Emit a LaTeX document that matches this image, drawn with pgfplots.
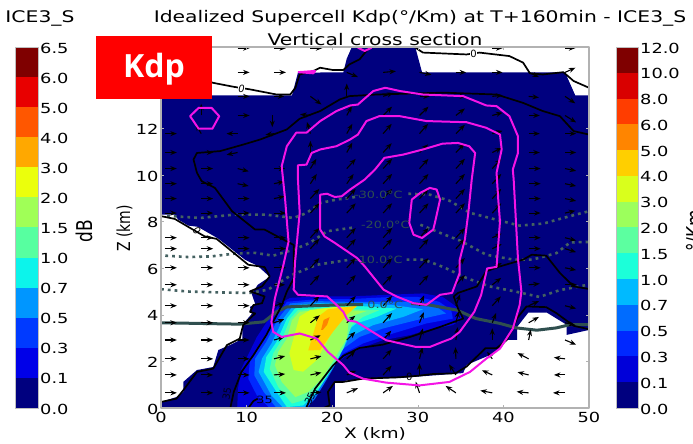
\documentclass[border=0pt]{standalone}
\usepackage{graphicx}
\usepackage{fontspec}
\setmainfont{DejaVu Sans}
\newfontfamily\kdpfont{Open Sans}
\usepackage{pgfplots}
\pgfplotsset{compat=1.18}
\usetikzlibrary{arrows.meta}
\newcommand\sx[1]{\scalebox{1.28}[1]{#1}}
\newcommand\tk[1]{{\fontsize{13.9}{14}\selectfont\sx{#1}}}
% colour levels of the two colour bars
\definecolor{L0}{HTML}{00007F}\definecolor{L1}{HTML}{0000E8}\definecolor{L2}{HTML}{003AFF}
\definecolor{L3}{HTML}{0096FF}\definecolor{L4}{HTML}{0CF4EB}\definecolor{L5}{HTML}{57FFA0}
\definecolor{L6}{HTML}{A0FF57}\definecolor{L7}{HTML}{EBFF0C}\definecolor{L8}{HTML}{FFA800}
\definecolor{L9}{HTML}{FF5700}\definecolor{L10}{HTML}{E80000}\definecolor{L11}{HTML}{7F0000}
\definecolor{R0}{HTML}{00007F}\definecolor{R1}{HTML}{0000D9}\definecolor{R2}{HTML}{0028FF}
\definecolor{R3}{HTML}{006CFF}\definecolor{R4}{HTML}{00BAFF}\definecolor{R5}{HTML}{1CFFD9}
\definecolor{R6}{HTML}{5CFFA0}\definecolor{R7}{HTML}{9CFF5C}\definecolor{R8}{HTML}{D9FF1C}
\definecolor{R9}{HTML}{FFCF00}\definecolor{R10}{HTML}{FF8500}\definecolor{R11}{HTML}{FF3D00}
\definecolor{R12}{HTML}{D90000}\definecolor{R13}{HTML}{7F0000}
\definecolor{iso}{HTML}{2F4F4F}
\definecolor{mag}{HTML}{F414E6}
\begin{document}
\begin{tikzpicture}[x=1pt,y=1pt]
\path[use as bounding box] (0,0) rectangle (693,444);
% left colour bar
\begin{axis}[at={(15pt,36pt)},anchor=south west,scale only axis,width=23pt,height=361pt,
 xmin=0,xmax=1,ymin=0,ymax=12,xtick=\empty,ytick={0,...,12},
 yticklabels={\tk{0.0},\tk{0.1},\tk{0.3},\tk{0.5},\tk{0.7},\tk{1.0},\tk{1.5},\tk{2.0},\tk{3.0},\tk{4.0},\tk{5.0},\tk{6.0},\tk{6.5}},
 yticklabel pos=right,major tick length=0pt,axis line style={draw=gray!50,line width=.5pt},
 yticklabel style={inner xsep=2pt,anchor=west,yshift=-1pt},axis on top]
\addplot[fill=L0,draw=none] coordinates {(0,0)(1,0)(1,1)(0,1)} -- cycle;
\addplot[fill=L1,draw=none] coordinates {(0,1)(1,1)(1,2)(0,2)} -- cycle;
\addplot[fill=L2,draw=none] coordinates {(0,2)(1,2)(1,3)(0,3)} -- cycle;
\addplot[fill=L3,draw=none] coordinates {(0,3)(1,3)(1,4)(0,4)} -- cycle;
\addplot[fill=L4,draw=none] coordinates {(0,4)(1,4)(1,5)(0,5)} -- cycle;
\addplot[fill=L5,draw=none] coordinates {(0,5)(1,5)(1,6)(0,6)} -- cycle;
\addplot[fill=L6,draw=none] coordinates {(0,6)(1,6)(1,7)(0,7)} -- cycle;
\addplot[fill=L7,draw=none] coordinates {(0,7)(1,7)(1,8)(0,8)} -- cycle;
\addplot[fill=L8,draw=none] coordinates {(0,8)(1,8)(1,9)(0,9)} -- cycle;
\addplot[fill=L9,draw=none] coordinates {(0,9)(1,9)(1,10)(0,10)} -- cycle;
\addplot[fill=L10,draw=none] coordinates {(0,10)(1,10)(1,11)(0,11)} -- cycle;
\addplot[fill=L11,draw=none] coordinates {(0,11)(1,11)(1,12)(0,12)} -- cycle;
\end{axis}
% right colour bar
\begin{axis}[at={(616pt,36pt)},anchor=south west,scale only axis,width=22pt,height=361pt,
 xmin=0,xmax=1,ymin=0,ymax=14,xtick=\empty,ytick={0,...,14},
 yticklabels={\tk{0.0},\tk{0.1},\tk{0.3},\tk{0.5},\tk{0.7},\tk{1.0},\tk{1.5},\tk{2.0},\tk{3.0},\tk{4.0},\tk{5.0},\tk{6.0},\tk{8.0},\tk{10.0},\tk{12.0}},
 yticklabel pos=right,major tick length=0pt,axis line style={draw=gray!50,line width=.5pt},
 yticklabel style={inner xsep=2pt,anchor=west,yshift=-1pt},axis on top]
\addplot[fill=R0,draw=none] coordinates {(0,0)(1,0)(1,1)(0,1)} -- cycle;
\addplot[fill=R1,draw=none] coordinates {(0,1)(1,1)(1,2)(0,2)} -- cycle;
\addplot[fill=R2,draw=none] coordinates {(0,2)(1,2)(1,3)(0,3)} -- cycle;
\addplot[fill=R3,draw=none] coordinates {(0,3)(1,3)(1,4)(0,4)} -- cycle;
\addplot[fill=R4,draw=none] coordinates {(0,4)(1,4)(1,5)(0,5)} -- cycle;
\addplot[fill=R5,draw=none] coordinates {(0,5)(1,5)(1,6)(0,6)} -- cycle;
\addplot[fill=R6,draw=none] coordinates {(0,6)(1,6)(1,7)(0,7)} -- cycle;
\addplot[fill=R7,draw=none] coordinates {(0,7)(1,7)(1,8)(0,8)} -- cycle;
\addplot[fill=R8,draw=none] coordinates {(0,8)(1,8)(1,9)(0,9)} -- cycle;
\addplot[fill=R9,draw=none] coordinates {(0,9)(1,9)(1,10)(0,10)} -- cycle;
\addplot[fill=R10,draw=none] coordinates {(0,10)(1,10)(1,11)(0,11)} -- cycle;
\addplot[fill=R11,draw=none] coordinates {(0,11)(1,11)(1,12)(0,12)} -- cycle;
\addplot[fill=R12,draw=none] coordinates {(0,12)(1,12)(1,13)(0,13)} -- cycle;
\addplot[fill=R13,draw=none] coordinates {(0,13)(1,13)(1,14)(0,14)} -- cycle;
\end{axis}
% main panel
\begin{axis}[at={(161pt,36pt)},anchor=south west,scale only axis,width=428pt,height=361pt,
 xmin=0,xmax=50,ymin=0,ymax=15.5,xtick={0,10,...,50},ytick={0,2,...,12},
 xticklabels={\tk{0},\tk{10},\tk{20},\tk{30},\tk{40},\tk{50}},
 yticklabels={\tk{0},\tk{2},\tk{4},\tk{6},\tk{8},\tk{10},\tk{12}},
 axis line style={draw=gray!60,line width=1.2pt},tick style={draw=gray!60,line width=.4pt},
 major tick length=3pt,tick align=inside,
 xticklabel style={yshift=-1pt},yticklabel style={xshift=1pt,yshift=-1pt},axis on top,line join=round]
% field: navy base
\addplot[fill=R0,draw=none] coordinates {(0,0)(0,.26)(1.8,.47)(2.6,.69)(2.6,1.12)(4.2,1.63)(6.1,1.76)(6.7,2.49)(8.1,2.71)(9.5,2.97)(9.5,3.57)(10.6,4.04)(10.4,4.34)(11,4.47)(10.6,4.9)(11.3,5.29)(12.7,5.63)(11.3,6.1)(9.8,6.37)(6.7,7.27)(4.3,7.78)(3.2,7.83)(2,8.09)(1.6,8.3)(0,8.3)(0,13.42)(15.3,13.42)(16,14.4)(21.3,14.41)(21.7,15)(22.3,15.5)(29.7,15.5)(30.5,14.41)(47.2,14.41)(48.4,13.42)(50,13.42)(50,3.35)(47.4,3.14)(47.4,3.57)(45.1,4.09)(42.9,4.09)(41.6,3.48)(41.6,2.92)(40.4,2.92)(39.8,2.62)(39,2.37)(37.9,2.19)(35.7,1.85)(35.3,1.5)(32.6,1.42)(27.9,1.29)(23.6,1.25)(20.3,1.12)(20.3,0)} -- cycle;
\addplot[fill=R1,draw=none] coordinates {(8.9,0)(9,.83)(9.4,1.69)(11.2,3.05)(12.9,3.99)(13.9,4.49)(15.1,4.73)(18.2,4.79)(22.1,4.79)(27.1,4.87)(30.6,4.92)(32.9,4.77)(34.7,4.3)(35.3,3.84)(34.1,3.56)(31,3.34)(29.1,3.13)(25.9,2.91)(23.2,2.55)(21.5,2.2)(19.7,1.7)(18.6,1.26)(17.8,.54)(17.2,0)} -- cycle;
\addplot[fill=R2,draw=none] coordinates {(12.7,0)(11.2,.54)(10.2,1.26)(10.4,2.12)(11.6,2.7)(13.3,3.84)(14.7,4.56)(18.2,4.67)(21.7,4.67)(27.1,4.77)(30,4.77)(32.5,4.56)(33.9,4.2)(34.1,3.84)(31,3.63)(27.1,3.2)(23.6,2.77)(21.3,2.34)(19.5,1.55)(18.2,.97)(17.4,.19)(16.9,0)} -- cycle;
\addplot[fill=R3,draw=none] coordinates {(13.5,0)(12,.69)(10.9,1.4)(11,2.12)(12.3,2.84)(13.7,3.84)(15.1,4.49)(18.2,4.59)(21.7,4.56)(25.2,4.56)(29.1,4.56)(32.2,4.34)(33.3,4.06)(29.8,3.77)(25.9,3.41)(23.2,3.05)(21.3,2.55)(20.1,1.69)(19.2,1.12)(18,.4)(17,0)} -- cycle;
\addplot[fill=R4,draw=none] coordinates {(14.3,0)(12.9,.54)(11.4,1.55)(11.8,2.12)(12.9,2.77)(14.3,3.84)(15.5,4.42)(18.2,4.5)(21.7,4.49)(23.6,4.49)(27.1,4.42)(30.6,4.24)(28.3,3.91)(24.8,3.56)(22,3.05)(20.5,1.98)(19.2,1.26)(18,.54)(16.8,.04)} -- cycle;
\addplot[fill=R5,draw=none] coordinates {(14.7,.04)(13.5,.69)(12,1.55)(12.3,2.19)(13.5,2.84)(14.7,3.84)(15.8,4.34)(18.2,4.42)(21.7,4.42)(24.8,4.34)(27.5,4.27)(25.2,3.91)(22.8,3.63)(21.6,3.27)(20.9,2.27)(19.5,1.4)(18.2,.69)(16.6,.11)} -- cycle;
\addplot[fill=R6,draw=none] coordinates {(15.3,.19)(13.7,.9)(12.7,1.69)(13.1,2.34)(14.1,2.91)(15.1,3.84)(16,4.2)(18.6,4.3)(21.7,4.3)(22.8,4.24)(25.5,4.2)(23.6,3.91)(22.3,3.56)(21.3,2.55)(19.7,1.62)(18.6,.97)(16.6,.33)} -- cycle;
\addplot[fill=R7,draw=none] coordinates {(15.7,.47)(14.1,1.12)(13.3,1.84)(13.7,2.41)(14.7,2.98)(15.3,3.77)(16.2,4.13)(19,4.24)(21.7,4.2)(24,4.16)(22,3.91)(21.7,2.98)(19.9,1.9)(18.8,1.26)(17.2,.69)} -- cycle;
\addplot[fill=R8,draw=none] coordinates {(15.5,1.63)(15,2.35)(15.7,3.28)(16.2,3.93)(17.4,4.2)(20.1,4.33)(22.9,4.36)(21.3,3.93)(19.7,3.07)(18.2,2.06)(16.6,1.56)} -- cycle;
\addplot[fill=R9,draw=none] coordinates {(17.2,2.47)(17.8,3.21)(18.4,3.93)(19.5,4.24)(22.9,4.39)(21.7,4)(20.1,3.28)(18.6,2.49)} -- cycle;
\addplot[fill=R10,draw=none] coordinates {(18.7,3.35)(19,3.78)(19.7,3.9)(19.4,3.57)(18.9,3.35)} -- cycle;
% isotherms
\addplot[iso!90,line width=2.6pt,dash pattern=on 2.8pt off 4pt] coordinates {(.7,8.25)(4.6,8.16)(8.5,8.3)(12.3,8.3)(15.5,8.16)(17,8.37)(18.6,8.8)(20.5,8.95)(22.1,9.02)(23.2,9.1)};
\addplot[iso!90,line width=2.6pt,dash pattern=on 2.8pt off 4pt] coordinates {(28.9,9.2)(31.4,9.16)(33.7,8.9)(36.1,8.38)(38.8,8.12)(41.9,7.83)(44.7,7.92)(47,8.16)(50,8.45)};
\addplot[iso!90,line width=2.6pt,dash pattern=on 2.8pt off 4pt] coordinates {(.5,6.54)(3.2,6.48)(5.9,6.51)(8.6,6.63)(11,6.66)(13.1,6.54)(15.5,6.8)(17.4,7.09)(19.4,7.59)(22.7,7.76)};
\addplot[iso!90,line width=2.6pt,dash pattern=on 2.8pt off 4pt] coordinates {(30.3,7.87)(32.6,7.52)(35.1,7.16)(38,6.58)(41.2,6.37)(43.4,6.37)(46.2,6.65)(47.8,7.11)(50,7.13)};
\addplot[iso!90,line width=2.6pt,dash pattern=on 2.8pt off 4pt] coordinates {(0,5.1)(3.2,5)(7.1,4.96)(10.4,4.94)(12.5,5.08)(15.2,5.7)(18.2,6.15)(22.1,6.37)};
\addplot[iso!90,line width=2.6pt,dash pattern=on 2.8pt off 4pt] coordinates {(28.7,6.37)(30.7,6.37)(33,6.05)(35.7,5.58)(38.4,5.22)(41.4,5)(44.2,4.77)(46.6,5.06)(50,5.3)};
\addplot[iso,line width=3pt] coordinates {(0,3.66)(9.2,3.6)(12,3.7)(13.5,4.13)(14.7,4.34)(17.8,4.39)(22.1,4.44)(23.6,4.44)};
\addplot[iso,line width=3pt] coordinates {(29.2,4.49)(31.4,4.42)(34.6,4.2)(36.8,3.84)(39.6,3.63)(41.5,3.44)(43.9,3.34)(46.2,3.44)(47.8,3.58)(50,3.58)};
% wind vectors (tails at the grid points, km)
\addplot[black,line width=1.1pt,quiver={u=\thisrow{u},v=\thisrow{v},every arrow/.append style={-{Stealth[length=6.5pt,width=5pt]}}}] table {
x y u v
8.95 15.45 1.4 0
13.2 15.45 1.4 0
17.45 15.45 1.4 0
38.7 15.45 1.2 0
47.2 15.45 1.2 0
8.95 14.41 1.4 0
13.2 14.41 1.4 0
21.7 14.41 1.3 -.2
25.95 14.41 1.5 .05
30.2 14.41 1.4 -.1
34.45 14.41 1.2 0
38.7 14.41 1.2 0
42.95 14.41 1.2 -.2
47.2 14.41 1.2 .2
8.95 13.38 1.4 0
13.2 13.38 1.2 0
17.45 13.38 1.3 -.35
21.7 13.38 0 .55
25.95 13.38 1.2 .15
30.2 13.38 1.2 0
34.45 13.38 1.2 0
38.7 13.38 1.2 .05
42.95 13.38 1.2 -.05
47.2 13.38 1.2 -.3
4.7 12.56 0 .5
8.95 12.56 1.4 0
13.0 12.56 0 -.5
17.45 12.56 -1.2 .05
21.7 12.56 .6 .4
25.95 12.56 1.05 .38
30.2 12.56 1.05 .38
34.45 12.56 1.05 .3
38.7 12.56 1.2 .12
42.95 12.56 1.3 0
47.2 12.56 1.3 -.3
.45 11.78 1.4 0
4.7 11.78 -.65 .4
8.95 11.78 -1.3 0
13.2 11.78 -1 -.05
17.45 11.78 -.4 .5
21.7 11.78 .65 .42
25.95 11.78 1 .42
30.2 11.78 1 .42
34.45 11.78 1.05 .38
38.7 11.78 1.2 .12
42.95 11.78 1.3 0
47.2 11.78 1.3 0
.45 10.97 1.4 0
4.7 10.97 1.4 0
8.95 10.97 -1.3 -.1
17.45 10.97 0 .5
21.7 10.97 .65 .42
25.95 10.97 1 .4
30.2 10.97 1 .35
34.45 10.97 1 .38
38.7 10.97 1.1 .2
42.95 10.97 1.3 0
47.2 10.97 1.3 0
.45 10.28 1.4 0
4.7 10.28 1.4 0
8.95 10.28 1.3 -.12
13.2 10.28 1.3 0
17.45 10.28 .7 .42
21.7 10.28 1.05 .42
25.95 10.28 1.05 .42
30.2 10.28 1.05 .42
34.45 10.28 1.05 .42
38.7 10.28 1.05 .42
42.95 10.28 1.4 0
47.2 10.28 1.3 -.1
.45 9.63 1.4 0
4.7 9.63 1.4 0
8.95 9.63 1.3 -.1
13.2 9.63 1.2 .1
17.45 9.63 .75 .42
21.7 9.63 .8 .42
25.95 9.63 1.05 .42
30.2 9.63 1.05 .42
34.45 9.63 1.05 .42
38.7 9.63 1.05 .42
42.95 9.63 1.4 0
47.2 9.63 1.3 -.1
.45 8.99 1.4 0
4.7 8.99 1.4 0
8.95 8.99 1.4 0
13.2 8.99 1.25 .1
17.45 8.99 1.05 .42
21.7 8.99 1.05 .42
25.95 8.99 1.05 .42
30.2 8.99 1.05 .42
34.45 8.99 1.05 .42
38.7 8.99 1.05 .42
42.95 8.99 1.4 0
47.2 8.99 1.3 -.1
.45 8.37 1.4 0
4.7 8.37 1.4 0
8.95 8.37 1.4 0
13.2 8.37 1.4 0
17.45 8.37 1.05 .42
21.7 8.37 1.05 .42
25.95 8.37 1.05 .42
30.2 8.37 1.05 .42
34.45 8.37 1.05 .42
38.7 8.37 1.05 .42
42.95 8.37 1.4 0
47.2 8.37 1.2 .1
.45 7.31 1.4 0
4.7 7.31 1.4 0
8.95 7.31 1.4 0
13.2 7.31 1.4 0
17.45 7.31 1.05 .42
21.7 7.31 1.05 .42
25.95 7.31 1.05 .42
30.2 7.31 1.05 .42
34.45 7.31 1.05 .42
38.7 7.31 1.1 .18
42.95 7.31 1.4 0
47.2 7.31 1.3 -.12
.45 6.84 1.4 0
4.7 6.84 1.4 0
8.95 6.84 1.4 0
13.2 6.84 1.4 0
17.45 6.84 1.05 .42
21.7 6.84 1.05 .42
25.95 6.84 1.05 .42
30.2 6.84 1.05 .42
34.45 6.84 1.05 .42
38.7 6.84 1.1 .2
42.95 6.84 1.4 0
47.2 6.84 1.3 -.15
.45 6.02 1.4 0
4.7 6.02 1.4 0
8.95 6.02 1.4 0
13.2 6.02 1.4 0
17.45 6.02 1.05 .42
21.7 6.02 1.05 .42
25.95 6.02 1.05 .42
30.2 6.02 1.05 .42
34.45 6.02 1.05 .42
38.7 6.02 1.1 .2
42.95 6.02 1.4 0
47.2 6.02 1.3 -.1
.45 5.29 1.4 0
4.7 5.29 1.4 0
8.95 5.29 1.4 0
13.2 5.29 1.3 0
17.45 5.29 1.05 .42
21.7 5.29 1.05 .42
25.95 5.29 1.05 .42
30.2 5.29 1.05 .42
34.45 5.29 1.05 .42
38.7 5.29 1.05 .3
42.95 5.29 1.3 .05
47.2 5.29 1.4 0
.45 4.39 1.4 0
4.7 4.39 1.4 0
8.95 4.39 1.4 0
13.2 4.39 1.2 .1
17.45 4.39 1.05 .42
21.7 4.39 1.05 .42
25.95 4.39 1.05 .42
30.2 4.39 .55 .45
34.45 4.39 .5 .5
38.7 4.39 1 .4
42.95 4.39 1.2 .2
47.2 4.39 1.3 -.12
.45 3.66 1.4 0
4.7 3.66 1.4 0
8.95 3.66 1.4 0
13.2 3.66 1.2 .15
17.45 3.66 1.1 .32
21.7 3.66 1 .3
25.95 3.66 1.05 .42
30.2 3.66 .5 .45
34.45 3.66 .35 .5
38.7 3.66 .45 .42
42.95 3.66 1.2 .25
47.2 3.66 1.2 -.1
.45 2.92 1.4 0
4.7 2.92 1.4 0
8.95 2.92 1.4 0
13.2 2.92 1.2 .12
17.45 2.92 1.2 .2
21.7 2.92 1 .35
25.95 2.92 .95 .4
30.2 2.92 .4 .5
34.45 2.92 .2 .55
38.7 2.92 0 .5
42.95 2.92 .25 .45
47.2 2.92 1.3 -.2
.45 2.11 1.4 0
4.7 2.11 1.4 0
8.95 2.11 1.4 0
13.2 2.11 1.3 .12
17.45 2.11 1.3 .12
21.7 2.11 1 .35
25.95 2.11 1 .4
30.2 2.11 .35 .5
34.45 2.11 -.05 .5
38.7 2.11 -.6 .3
42.95 2.11 -1.3 .25
47.2 2.11 -1.3 .06
.45 1.42 1.4 0
4.7 1.42 1.4 0
8.95 1.42 1.4 0
13.2 1.42 1.3 .04
17.45 1.42 1.3 .1
21.7 1.42 1.1 .18
25.95 1.42 1 .4
30.2 1.42 0 .5
34.45 1.42 -.8 .45
38.7 1.42 -1.2 .2
42.95 1.42 -1.3 .12
47.2 1.42 -1.3 0
.45 .65 1.4 0
4.7 .65 1.4 0
8.95 .65 1.4 0
13.2 .65 1.4 0
17.45 .65 1.3 .03
21.7 .65 1.3 .2
25.95 .65 1.15 .3
30.2 .65 -.45 .48
34.45 .65 -1.2 .3
38.7 .65 -1.4 .1
42.95 .65 -1.4 .05
47.2 .65 -1.4 0
};
% black contours
\addplot[black,line width=1.7pt] coordinates {(5,14.1)(6.1,13.96)(8.5,13.79)(10.4,13.68)(13.5,13.46)(15.1,13.46)(15.7,13.75)(16.2,14.32)(17.8,14.47)(18.6,14.61)(20.1,14.51)(21.3,14.51)(22,14.75)(23.2,14.97)(24,15.33)(24.4,15.5)};
\addplot[black,line width=1.7pt] coordinates {(29.6,15.5)(30.6,15.26)(35.7,15.18)(37.2,15.26)(40.7,15.11)(42.3,14.83)(43.1,14.37)(44.6,14.32)(47,14.42)(48.2,14.04)(50,13.75)};
\addplot[black,line width=1.7pt] coordinates {(50,11.74)(48.2,11.89)(46.6,12.53)(44.6,12.75)(42.3,13.1)(39.2,13.46)(33,13.54)(25.2,13.46)(22,13.39)(20.9,13.25)(18.6,12.75)(16.2,12.42)(14.7,11.96)(11.6,11.53)(9.6,11.31)(6.9,11.03)(4.2,10.95)(3.8,10.67)(4.2,10.1)(4.75,9.74)(6.3,9.45)(8.3,8.45)(11,7.66)(12.1,7.66)(14.3,7.23)(15.5,7)(15.5,5.56)(14.7,5)(14.1,4.4)(12.3,3.13)(10.8,2.27)(9.4,1.55)(8.5,.69)(8.1,0)};
\addplot[black,line width=1.7pt] coordinates {(.1,8.23)(1.6,8.12)(3.4,7.73)(5.1,7.37)(6.5,7.26)(10.2,6.15)(12.1,6.05)(12.7,5.65)(11.8,5.22)(10.4,5.01)(12.1,4.79)(11.8,4.5)(10.8,4.42)(10.4,4.13)(11,4.06)(9.6,3.56)(9.2,2.98)(7.7,2.7)(6.1,1.69)(4.2,1.55)(2.6,.76)(1.8,.4)(0,.26)};
\addplot[black,line width=1.7pt] coordinates {(17,.04)(18,.83)(20.1,1.83)(21.3,2.24)(23.2,2.58)(25.9,2.72)(29.1,3.05)(32.6,3.48)(35.3,3.84)(34.7,4.27)(34.2,4.79)(34.7,4.94)(36.9,5.22)(38,5.87)(39.6,6.08)(42.3,6.37)(43.3,6.58)(45,6.54)(46.6,5.8)(48.2,5.22)(50,5.11)};
\addplot[black,line width=1.7pt] coordinates {(50,3.38)(48.2,3.53)(46.2,4.07)(45,4.33)(42.7,4.36)(41.6,3.86)(41,3.35)(40.4,2.92)(39.2,2.57)(37.9,2.57)(37.3,2.35)(35.7,1.78)(34.4,1.49)(31.8,1.46)(29.9,1.38)(27.9,1.32)(23.6,1.26)(21.3,1.12)(20.3,1.12)(19.5,.69)(19.7,.11)(19,0)};
\addplot[black,line width=1.7pt] coordinates {(10.2,0)(10.8,.3)(11.3,.4)};
% magenta contours
\addplot[mag,line width=2pt] coordinates {(22.1,12.99)(20.5,12.75)(18.6,12.32)(17,11.82)(15.8,11.82)(14.7,11.24)(14.1,10.38)(14.5,8.95)(14.9,7.14)(14.3,6.14)(13.3,4.7)(12.9,3.7)(13.1,3.27)(14.1,3.05)(16.2,3.2)(18.2,2.98)(19.5,2.41)(21.3,1.84)(22,1.52)(23.6,1.26)(26.3,1.09)(30.2,.97)(33.7,1.12)(36.1,1.55)(38,2.12)(39.6,2.55)(41.1,3.41)(41.9,4.42)(42.1,5)(41.7,6.42)(41.2,9.81)(41.1,10.24)(41.7,10.95)(41.7,11.67)(40.7,12.53)(39.2,12.96)(38,12.99)(35.3,13.39)(30.6,13.46)(27.9,13.61)(26.2,13.75)(24.8,13.61)(23,13.03)} -- cycle;
\addplot[mag,line width=2pt] coordinates {(22.1,11.53)(20.5,11.24)(18.6,11.1)(17.6,10.95)(17,10.45)(16,10.42)(16,9.81)(16.2,8.38)(15.65,6.23)(15.5,5.08)(16,4.86)(19.4,4.79)(20.5,4.43)(21.3,4.13)(21.8,3.77)(22.8,3.7)(24.4,3.34)(26.3,2.91)(29.8,2.62)(31.4,2.62)(32.9,2.84)(33.9,2.98)(34.9,3.27)(36.6,4.13)(37.4,4.85)(38.1,5.99)(39.2,6.06)(39.6,8)(39.4,8.95)(39.2,10.1)(39.8,11.1)(39.6,11.74)(38,12.03)(35.7,12.27)(31,12.32)(27.9,12.53)(25.5,12.53)(24,12.32)(23,11.74)} -- cycle;
\addplot[mag,line width=2pt] coordinates {(18.6,9.16)(18.6,7.66)(19.1,7.37)(20.3,7.09)(22.9,6.44)(23.8,6.08)(26,5.08)(27.5,4.79)(29.5,4.5)(31,4.43)(32.6,4.86)(34,4.94)(34.9,5.8)(34.9,6.37)(35.5,7.23)(35.9,8.37)(36.3,9.81)(36.7,10.95)(36,11.24)(34.7,11.38)(32.9,11.35)(30.6,11.1)(28.3,10.88)(26.1,10.74)(25,10.24)(23.8,9.81)(22.1,9.38)(21.1,9.09)(20.3,9.06)(19.4,9.2)} -- cycle;
\addplot[mag,line width=2pt] coordinates {(29.3,8.95)(30.3,9.24)(31.4,9.45)(32.2,9.38)(32.6,8.95)(32,7.95)(31.8,7.66)(30.5,7.3)(29.5,7.44)(29,7.95)} -- cycle;
\addplot[mag,line width=2pt] coordinates {(3.4,12.53)(4.4,12.89)(5.9,12.89)(6.8,12.53)(6,11.99)(4.4,11.99)} -- cycle;
\addplot[mag,line width=2pt] coordinates {(16,14.42)(18,14.47)(17.8,14.37)(16,14.42)};
\addplot[mag,line width=2pt] coordinates {(23,15.47)(23.8,15.33)(24.6,15.47)};
% contour labels
\node[text=iso,font=\fontsize{10}{11}\selectfont] at (axis cs:25.4,9.16) {\sx{-30.0°C}};
\node[text=iso,font=\fontsize{10}{11}\selectfont] at (axis cs:26.2,7.85) {\sx{-20.0°C}};
\node[text=iso,font=\fontsize{10}{11}\selectfont] at (axis cs:25.4,6.37) {\sx{-10.0°C}};
\node[text=iso,font=\fontsize{10}{11}\selectfont] at (axis cs:26.2,4.43) {\sx{0.0°C}};
\node[fill=white,inner sep=.6pt,font=\fontsize{10}{11}\itshape\selectfont] at (axis cs:9.4,13.72) {0};
\node[fill=white,inner sep=.6pt,font=\fontsize{10}{11}\selectfont] at (axis cs:36.5,15.2) {0};
\node[font=\fontsize{10}{11}\selectfont,inner sep=0pt] at (axis cs:29,1.33) {0};
\node[rotate=-40,font=\fontsize{10}{11}\itshape\selectfont,inner sep=0pt] at (axis cs:4.2,7.63) {0};
\node[rotate=80,text=black!90!blue,font=\fontsize{10}{11}\selectfont,inner sep=0pt] at (axis cs:7.7,.62) {35};
\node[text=black!90!blue,font=\fontsize{10}{11}\selectfont,inner sep=0pt] at (axis cs:12.1,.36) {\sx{35}};
\node[rotate=65,text=black!90!blue,font=\fontsize{10}{11}\selectfont,inner sep=0pt] at (axis cs:17.4,.4) {35};
\end{axis}
% red box and texts
\fill[red] (96,345) rectangle (212,408);
\node[text=white,font=\kdpfont\bfseries\fontsize{32}{33}\selectfont] at (154,375) {Kdp};
\node[font=\fontsize{16}{18}\selectfont] at (40,426) {\scalebox{1.27}[1]{ICE3\_S}};
\node[font=\fontsize{16}{18}\selectfont] at (420,426) {\scalebox{1.27}[1]{Idealized Supercell Kdp(°/Km) at T+160min - ICE3\_S}};
\node[font=\fontsize{16}{18}\selectfont] at (375,404) {\scalebox{1.27}[1]{Vertical cross section}};
\node[font=\fontsize{14.5}{16}\selectfont] at (375,10) {\scalebox{1.28}[1]{X (km)}};
\node[rotate=90,font=\fontsize{14}{16}\selectfont] at (124.5,215.5) {\scalebox{1}[1.28]{Z (km)}};
\node[rotate=90,font=\fontsize{17}{18}\selectfont] at (84,213) {\scalebox{1}[1.28]{dB}};
\node[rotate=90,font=\fontsize{17}{18}\selectfont] at (695,213) {\scalebox{1}[1.28]{°/Km}};
\end{tikzpicture}
\end{document}
